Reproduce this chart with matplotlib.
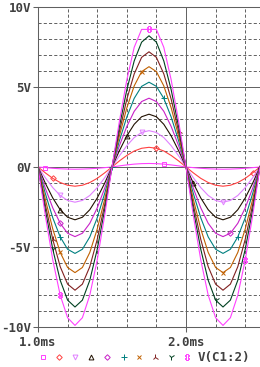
import numpy as np
import matplotlib
matplotlib.use("Agg")
import matplotlib.pyplot as plt

# time axis (ms), one sample every 0.05 ms
t_ms = np.linspace(1.0, 2.5, 31)

# V(C1:2) for each run (V)
v_sq = [0, -0.04, -0.08, -0.11, -0.13, -0.14, -0.13, -0.11, -0.08, -0.04, 0,
        0.07, 0.13, 0.18, 0.21, 0.22, 0.21, 0.18, 0.13, 0.07, 0,
        -0.04, -0.08, -0.11, -0.13, -0.14, -0.13, -0.11, -0.08, -0.04, 0]
v_dia = [0, -0.37, -0.71, -0.97, -1.14, -1.20, -1.14, -0.97, -0.71, -0.37, 0,
         0.38, 0.72, 1.00, 1.17, 1.23, 1.17, 1.00, 0.72, 0.38, 0,
         -0.37, -0.71, -0.97, -1.14, -1.20, -1.14, -0.97, -0.71, -0.37, 0]
v_tdn = [0, -0.68, -1.29, -1.78, -2.09, -2.20, -2.09, -1.78, -1.29, -0.68, 0,
         0.70, 1.33, 1.84, 2.16, 2.27, 2.16, 1.84, 1.33, 0.70, 0,
         -0.68, -1.29, -1.78, -2.09, -2.20, -2.09, -1.78, -1.29, -0.68, 0]
v_tup = [0, -1.02, -1.94, -2.67, -3.14, -3.30, -3.14, -2.67, -1.94, -1.02, 0,
         1.02, 1.94, 2.67, 3.14, 3.30, 3.14, 2.67, 1.94, 1.02, 0,
         -1.02, -1.94, -2.67, -3.14, -3.30, -3.14, -2.67, -1.94, -1.02, 0]
v_dia2 = [0, -1.34, -2.56, -3.52, -4.14, -4.35, -4.14, -3.52, -2.56, -1.34, 0,
          1.33, 2.53, 3.48, 4.09, 4.30, 4.09, 3.48, 2.53, 1.33, 0,
          -1.34, -2.56, -3.52, -4.14, -4.35, -4.14, -3.52, -2.56, -1.34, 0]
v_plus = [0, -1.67, -3.18, -4.37, -5.14, -5.40, -5.14, -4.37, -3.18, -1.67, 0,
          1.64, 3.12, 4.29, 5.04, 5.30, 5.04, 4.29, 3.12, 1.64, 0,
          -1.67, -3.18, -4.37, -5.14, -5.40, -5.14, -4.37, -3.18, -1.67, 0]
v_x = [0, -2.04, -3.88, -5.34, -6.28, -6.60, -6.28, -5.34, -3.88, -2.04, 0,
       1.94, 3.69, 5.07, 5.96, 6.27, 5.96, 5.07, 3.69, 1.94, 0,
       -2.04, -3.88, -5.34, -6.28, -6.60, -6.28, -5.34, -3.88, -2.04, 0]
v_lam = [0, -2.38, -4.53, -6.23, -7.32, -7.70, -7.32, -6.23, -4.53, -2.38, 0,
         2.22, 4.23, 5.82, 6.85, 7.20, 6.85, 5.82, 4.23, 2.22, 0,
         -2.38, -4.53, -6.23, -7.32, -7.70, -7.32, -6.23, -4.53, -2.38, 0]
v_y = [0, -2.70, -5.15, -7.08, -8.32, -8.75, -8.32, -7.08, -5.15, -2.70, 0,
       2.53, 4.82, 6.63, 7.80, 8.20, 7.80, 6.63, 4.82, 2.53, 0,
       -2.70, -5.15, -7.08, -8.32, -8.75, -8.32, -7.08, -5.15, -2.70, 0]
v_dd = [0, -3.06, -5.82, -8.01, -9.42, -9.90, -9.42, -8.01, -5.82, -3.06, 0,
        2.86, 5.44, 7.48, 8.60, 8.60, 8.60, 7.48, 5.44, 2.86, 0,
        -3.06, -5.82, -8.01, -9.42, -9.90, -9.42, -8.01, -5.82, -3.06, 0]

series = [v_sq, v_dia, v_tdn, v_tup, v_dia2, v_plus, v_x, v_lam, v_y, v_dd]
colors = ['#ff40ff', '#ff4040', '#e080ff', '#201000', '#c820c8',
          '#008080', '#c06000', '#802020', '#004020', '#ff40ff']
markers = ['s', 'D', 'v', '^', 'D', '+', 'x', '2', '1', r'$\ddagger$']
msizes = [3.5, 2.8, 3.5, 3.5, 2.8, 4, 3.5, 4.5, 4.5, 4.5]
mark_idx = [[1, 17], [2, 16, 29], [3, 14, 25], [3, 12, 21, 30], [3, 26],
            [3, 10, 17, 27], [3, 14, 25], [2, 19], [2, 24], [3, 15, 28]]

yticks = [-10, -5, 0, 5, 10]
ytick_labels = ['-10V', '-5V', '0V', '5V', '10V']
xticks = [1.0, 2.0]
xtick_labels = ['1.0ms', '2.0ms']
legend_label = 'V(C1:2)'

grid_c = '#606060'
text_c = '#404040'
plt.rcParams['font.family'] = 'DejaVu Sans Mono'
plt.rcParams['font.weight'] = 'bold'

fig = plt.figure(figsize=(2.6, 3.67), dpi=100)
ax = fig.add_axes([38/260, 40/367, 222/260, 320/367])
ax.set_xlim(1.0, 2.5)
ax.set_ylim(-10, 10)

###
### grid
###
dash = (3.2, 2.2)
for v in range(-9, 10):
    if v % 5:
        ax.axhline(v, color=grid_c, lw=0.7, dashes=dash, zorder=0)
    else:
        ax.axhline(v, color=grid_c, lw=0.7, zorder=0)
for x in [1.2, 1.4, 1.6, 1.8, 2.2, 2.4]:
    ax.axvline(x, color=grid_c, lw=0.7, dashes=dash, zorder=0)
ax.axvline(2.0, color=grid_c, lw=0.7, zorder=0)

for s in ['left', 'top', 'bottom']:
    ax.spines[s].set_color(grid_c)
    ax.spines[s].set_linewidth(0.75)
ax.spines['right'].set_visible(False)

ax.set_yticks(yticks, ytick_labels)
ax.set_xticks(xticks, xtick_labels)
ax.tick_params(axis='y', length=3.6, width=0.75, color=grid_c, pad=1.5,
               labelsize=9, labelcolor=text_c)
ax.tick_params(axis='x', length=3.6, width=0.75, color=grid_c, pad=3,
               labelsize=9, labelcolor=text_c)

###
### traces
###
for v, c, m, ms, idx in zip(series, colors, markers, msizes, mark_idx):
    ax.plot(t_ms, v, color=c, lw=0.8, marker=m, markersize=ms,
            markevery=idx, markerfacecolor='none', markeredgecolor=c,
            markeredgewidth=0.7, clip_on=True)

###
### legend row
###
leg = fig.add_axes([0, 0, 1, 1])
leg.set_xlim(0, 260)
leg.set_ylim(367, 0)
leg.axis('off')
leg_x = [43, 59, 75, 91, 107, 124, 139, 155, 171, 187]
for lx, c, m, ms in zip(leg_x, colors, markers, msizes):
    leg.plot([lx], [357], linestyle='none', marker=m, markersize=ms,
             markerfacecolor='none', markeredgecolor=c, markeredgewidth=0.7)
leg.text(198, 357, legend_label, fontsize=9, color=text_c, va='center', ha='left')

fig.savefig('out.png', dpi=100)
